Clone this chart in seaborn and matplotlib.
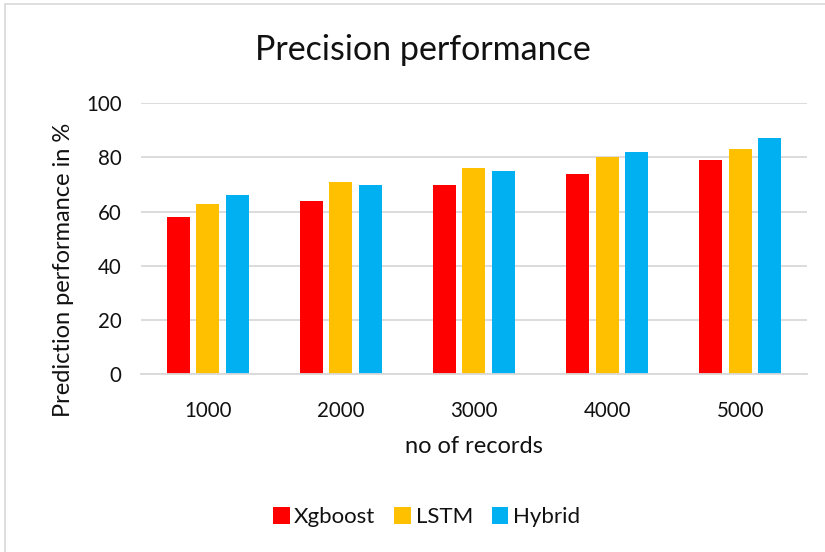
import matplotlib
matplotlib.use("Agg")
import matplotlib.pyplot as plt
from matplotlib.lines import Line2D
from matplotlib.patches import Patch
import seaborn as sns
import pandas as pd

records = ["1000", "2000", "3000", "4000", "5000"]
xgboost = [58, 64, 70, 74, 79]
lstm = [63, 71, 76, 80, 83]
hybrid = [66, 70, 75, 82, 87]
models = ["Xgboost", "LSTM", "Hybrid"]
colors = ["#FF0000", "#FFC000", "#00B0F0"]
yticks = [0, 20, 40, 60, 80, 100]

df = pd.DataFrame({
    "records": records * 3,
    "value": xgboost + lstm + hybrid,
    "model": [m for m in models for _ in records],
})

sns.set_style("white")
plt.rcParams["font.family"] = ["Lato", "DejaVu Sans"]
text_color = "#111111"
grid_color = "#D9D9D9"

fig = plt.figure(figsize=(8.25, 5.52), dpi=100)
ax = fig.add_axes([0.171, 0.322, 0.807, 0.491])

sns.barplot(data=df, x="records", y="value", hue="model", order=records,
            hue_order=models, palette=colors, width=0.665, gap=0.22,
            saturation=1, ax=ax, legend=False, edgecolor="none")

ax.set_ylim(0, 100)
ax.set_xlim(-0.5, len(records) - 0.5)
ax.set_yticks(yticks)
ax.set_yticklabels([str(t) for t in yticks])
ax.yaxis.grid(True, color=grid_color, linewidth=1.3)
ax.set_axisbelow(True)
for side in ["top", "right", "left"]:
    ax.spines[side].set_visible(False)
ax.spines["bottom"].set_color(grid_color)
ax.spines["bottom"].set_linewidth(1.3)
ax.tick_params(axis="both", length=0, labelsize=14.8, colors=text_color)
ax.tick_params(axis="y", pad=14)
ax.tick_params(axis="x", pad=19)

ax.set_xlabel("no of records", fontsize=17, color=text_color, labelpad=11)
ax.set_ylabel("Prediction performance in %", fontsize=17, color=text_color)
ax.yaxis.set_label_coords(-0.101, 0.384)

fig.text(0.512, 0.91, "Precision performance", ha="center", va="center",
         fontsize=24.5, color=text_color)

handles = [Patch(facecolor=c, edgecolor="none") for c in colors]
fig.legend(handles, models, loc="center", bbox_to_anchor=(0.517, 0.063),
           ncol=3, frameon=False, fontsize=16, handlelength=0.75,
           handleheight=0.75, handletextpad=0.2, columnspacing=0.85,
           labelcolor=text_color)

# thin outer chart-area frame
fig.add_artist(Line2D([0.006, 0.006], [0.0, 0.993], transform=fig.transFigure,
                      color="#D9D9D9", linewidth=1.2))
fig.add_artist(Line2D([0.006, 1.0], [0.993, 0.993], transform=fig.transFigure,
                      color="#D9D9D9", linewidth=1.2))

fig.savefig("out.png", dpi=100, facecolor="white")
